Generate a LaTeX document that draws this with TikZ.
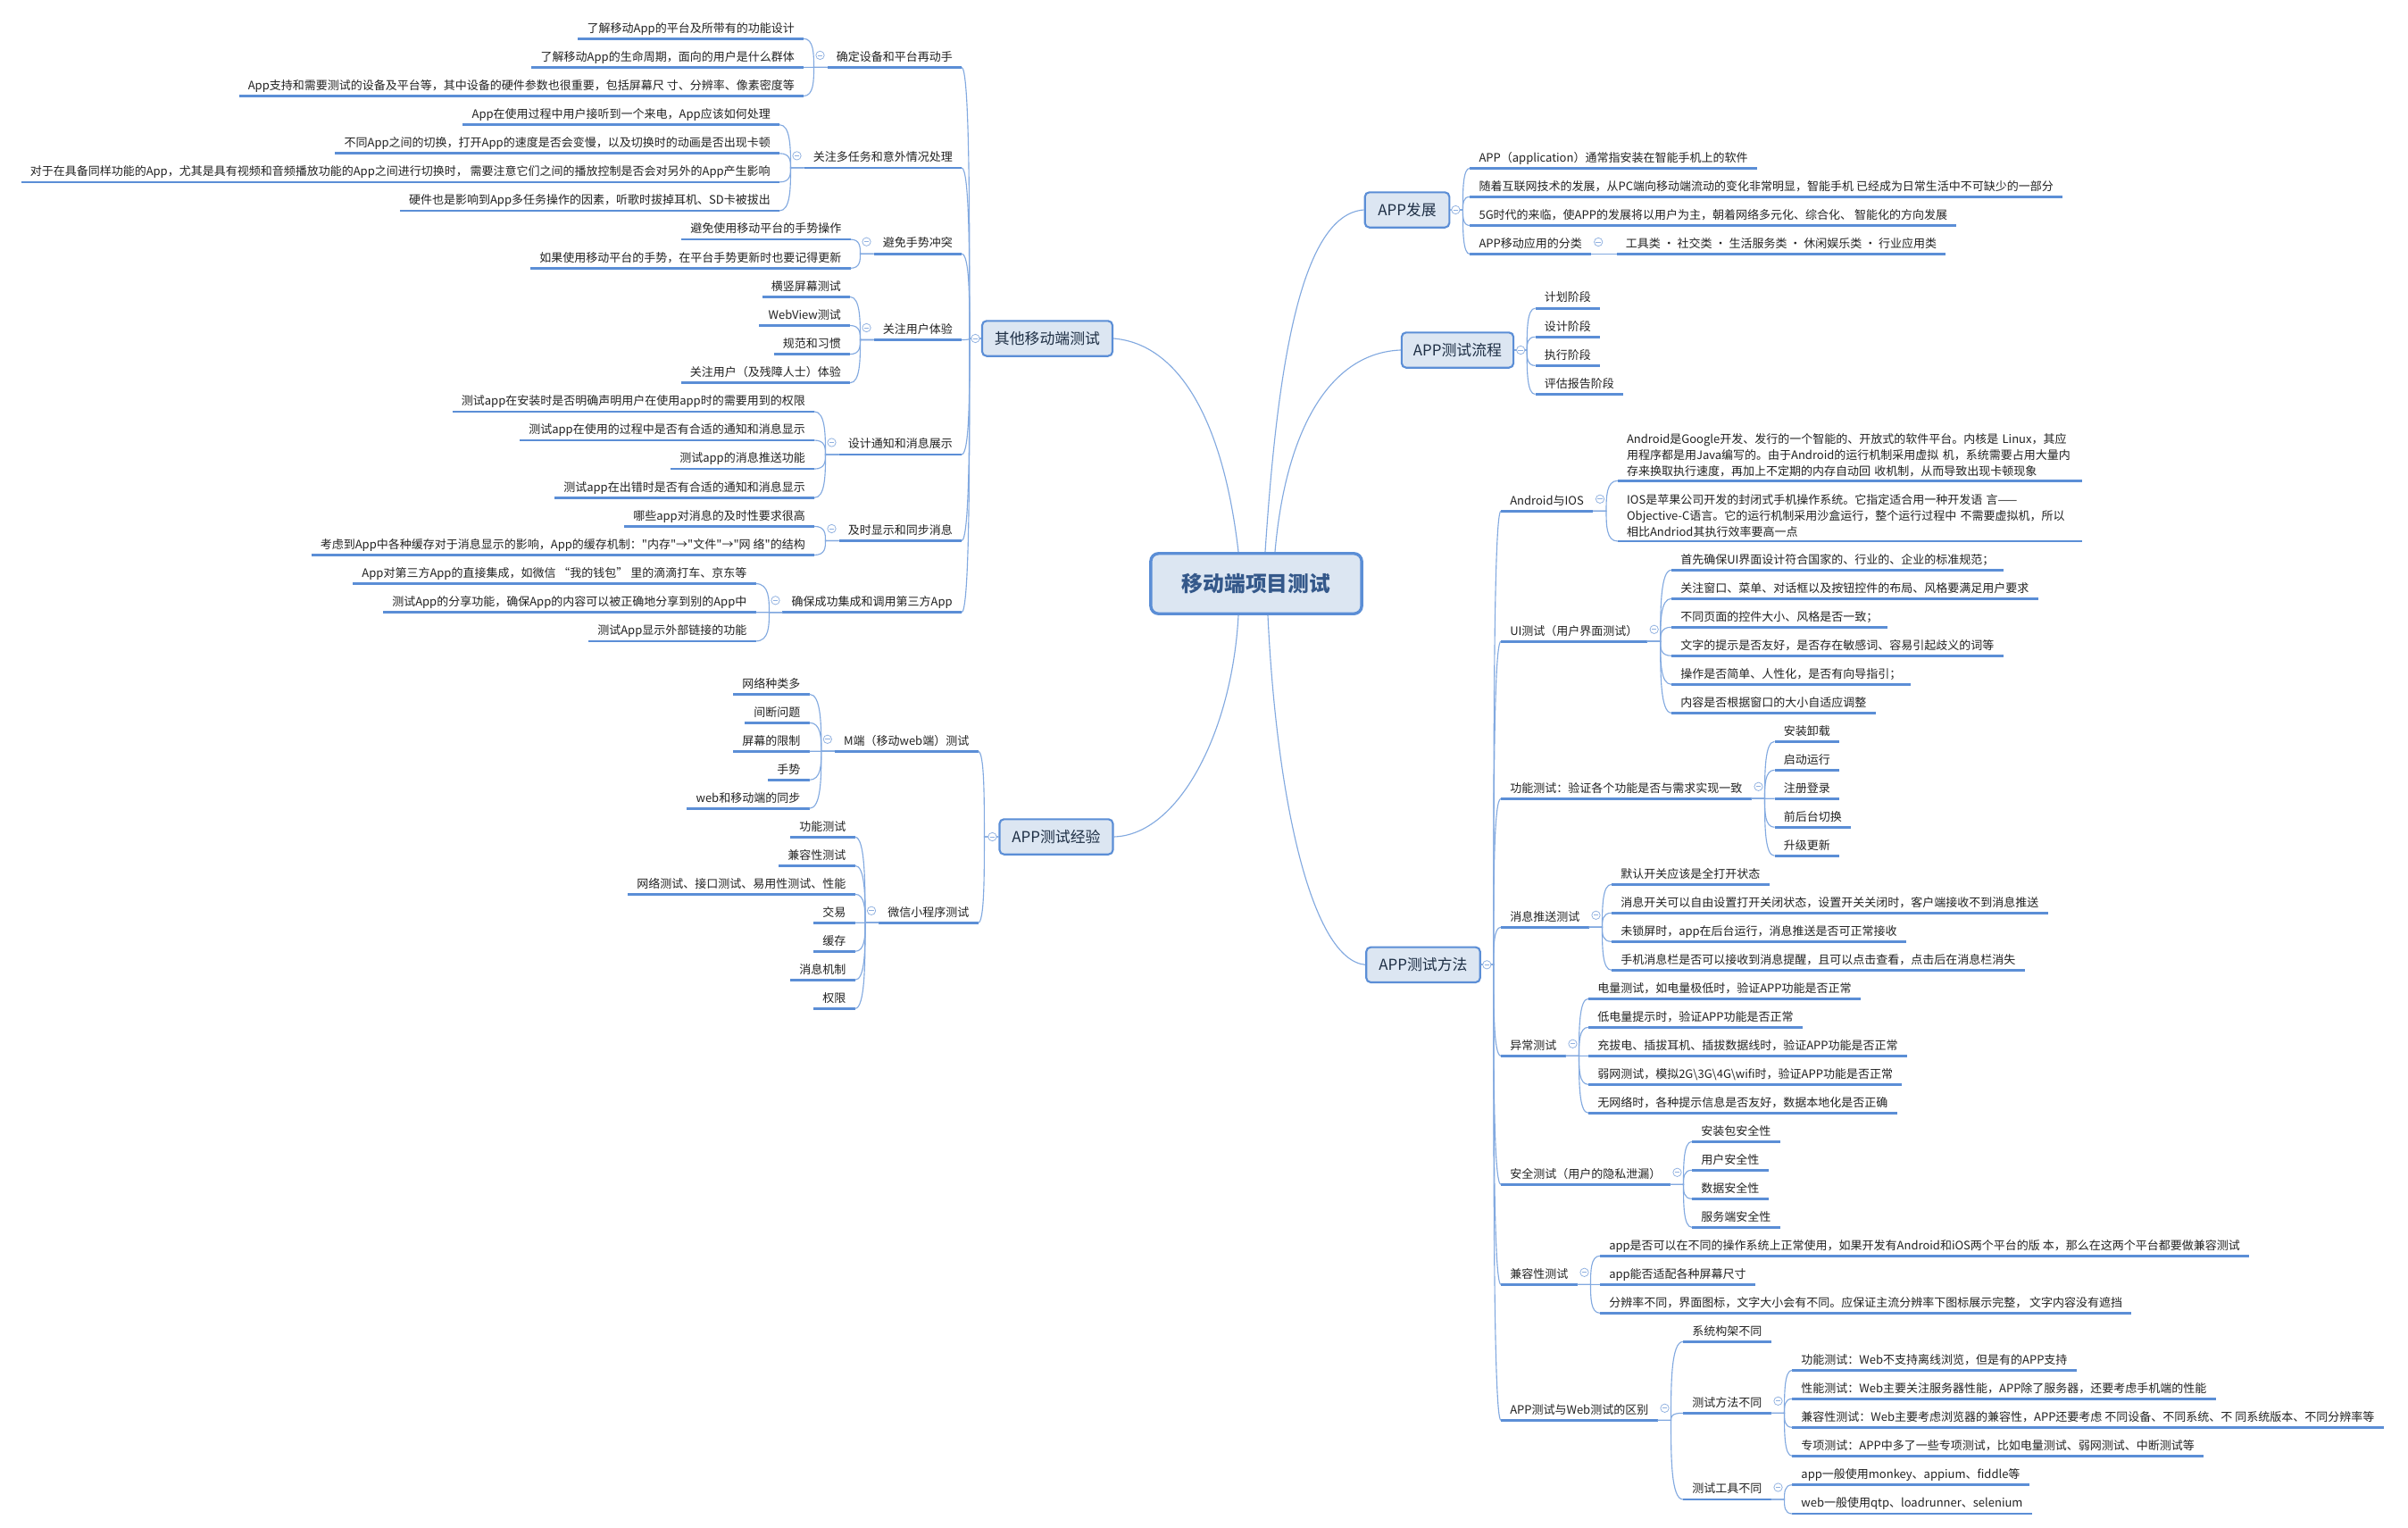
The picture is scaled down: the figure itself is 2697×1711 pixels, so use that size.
\documentclass[tikz,border=0pt]{standalone}
\usepackage{fontspec}
\setmainfont{Noto Sans CJK SC}
\newfontfamily\qtfont{Noto Sans CJK SC}[Ligatures=TeXOff]
\newcommand{\qt}{{\qtfont"}}
\usetikzlibrary{calc}
\definecolor{ink}{HTML}{222222}
\definecolor{ink2}{HTML}{1E2F45}
\definecolor{rootink}{HTML}{34588A}
\definecolor{uline}{HTML}{5B8ED6}
\definecolor{link}{HTML}{82A9E0}
\definecolor{boxfill}{HTML}{DCE6F2}
\definecolor{foldc}{HTML}{8FB0E0}
\newcommand{\leaffont}{\fontsize{10.4pt}{14.4pt}\selectfont}
\tikzset{
  ul/.style={draw=uline, line width=2.2pt},
  leaf/.style={font=\leaffont, text=ink, inner xsep=8pt, inner ysep=3.6pt,
               text height=.9em, text depth=.2em,
               append after command={(\tikzlastnode.south west) edge[ul] (\tikzlastnode.south east)}},
  lleaf/.style={leaf, anchor=south east},
  rleaf/.style={leaf, anchor=south west},
  mleaf/.style={font=\leaffont, text=ink, inner xsep=8pt, inner ysep=3.6pt,
                text width=400pt, align=left, anchor=south west,
                append after command={(\tikzlastnode.south west) edge[ul] (\tikzlastnode.south east)}},
  topic/.style={draw=uline, line width=1.7pt, fill=boxfill, rounded corners=4pt,
                font=\fontsize{13.5pt}{16pt}\selectfont, text=ink2,
                minimum height=31.5pt, inner sep=0pt},
  rootbox/.style={draw=uline, line width=2.7pt, fill=boxfill, rounded corners=7pt,
                  font=\fontsize{19pt}{22pt}\selectfont\bfseries, text=rootink,
                  minimum width=189pt, minimum height=54pt},
  lk/.style={draw=link, line width=0.9pt},
  % ---- curved branch: short stub, then bend into the child's underline ----
  cur/.style={to path={(\tikztostart) -- ++(#1,0) coordinate (jt)
      .. controls ($(jt)!.45!(jt|-\tikztotarget)$) and (jt|-\tikztotarget) .. (\tikztotarget)}},
  fold/.style={circle, draw=foldc, fill=white, line width=0.6pt, minimum size=7.5pt, inner sep=0pt,
      path picture={\draw[foldc, line width=0.6pt]
        ([xshift=-2.2pt]path picture bounding box.center) -- ([xshift=2.2pt]path picture bounding box.center);}},
}

\begin{document}
\begin{tikzpicture}[x=0.8pt, y=-0.8pt]
\fill[white] (0,0) rectangle (2697,1711);
\useasboundingbox (0,0) rectangle (2697,1711);
% centre and main topics
\node[rootbox] (root) at (1407,653.5) {移动端项目测试};
\node[topic, minimum width=116.8pt] (tOther) at (1173,379) {其他移动端测试};
\node[topic, minimum width=101.6pt] (tExp) at (1183,937) {APP测试经验};
\node[topic, minimum width=75.7pt] (tDev) at (1576,235) {APP发展};
\node[topic, minimum width=100.2pt] (tFlow) at (1632.5,392) {APP测试流程};
\node[topic, minimum width=102pt] (tMeth) at (1594,1080.3) {APP测试方法};
\draw[lk] ($(root.north)+(-20,0)$) .. controls (1370,470) and (1320,385) .. (tOther.east);
\draw[lk] ($(root.north)+(10,0)$) .. controls (1430,420) and (1455,240) .. (tDev.west);
\draw[lk] ($(root.north)+(21,0)$) .. controls (1440,480) and (1490,395) .. (tFlow.west);
\draw[lk] ($(root.south)+(-20,0)$) .. controls (1380,820) and (1320,935) .. (tExp.east);
\draw[lk] ($(root.south)+(13,0)$) .. controls (1430,900) and (1470,1075) .. (tMeth.west);

% 其他移动端测试
\node[lleaf] (o1) at (1077,75.4) {确定设备和平台再动手};
\node[lleaf] (o11) at (900,43.3) {了解移动App的平台及所带有的功能设计};
\node[lleaf] (o12) at (900,75.4) {了解移动App的生命周期，面向的用户是什么群体};
\node[lleaf] (o13) at (900,107.5) {App支持和需要测试的设备及平台等，其中设备的硬件参数也很重要，包括屏幕尺 寸、分辨率、像素密度等};
\node[lleaf] (o2) at (1077,187.9) {关注多任务和意外情况处理};
\node[lleaf] (o21) at (873,139.7) {App在使用过程中用户接听到一个来电，App应该如何处理};
\node[lleaf] (o22) at (873,171.8) {不同App之间的切换，打开App的速度是否会变慢，以及切换时的动画是否出现卡顿};
\node[lleaf] (o23) at (873,203.9) {对于在具备同样功能的App，尤其是具有视频和音频播放功能的App之间进行切换时， 需要注意它们之间的播放控制是否会对另外的App产生影响};
\node[lleaf] (o24) at (873,236.0) {硬件也是影响到App多任务操作的因素，听歌时拔掉耳机、SD卡被拔出};
\node[lleaf] (o3) at (1077,284.2) {避免手势冲突};
\node[lleaf] (o31) at (952.6,268.1) {避免使用移动平台的手势操作};
\node[lleaf] (o32) at (952.6,300.3) {如果使用移动平台的手势，在平台手势更新时也要记得更新};
\node[lleaf] (o4) at (1077,380.5) {关注用户体验};
\node[lleaf] (o41) at (952,332.4) {横竖屏幕测试};
\node[lleaf] (o42) at (952,364.5) {WebView测试};
\node[lleaf] (o43) at (952,396.6) {规范和习惯};
\node[lleaf] (o44) at (952,428.7) {关注用户（及残障人士）体验};
\node[lleaf] (o5) at (1077,509) {设计通知和消息展示};
\node[lleaf] (o51) at (912,460.9) {测试app在安装时是否明确声明用户在使用app时的需要用到的权限};
\node[lleaf] (o52) at (912,493.0) {测试app在使用的过程中是否有合适的通知和消息显示};
\node[lleaf] (o53) at (912,525.1) {测试app的消息推送功能};
\node[lleaf] (o54) at (912,557.3) {测试app在出错时是否有合适的通知和消息显示};
\node[lleaf] (o6) at (1077,605.5) {及时显示和同步消息};
\node[lleaf] (o61) at (912,589.4) {哪些app对消息的及时性要求很高};
\node[lleaf] (o62) at (912,621.5) {考虑到App中各种缓存对于消息显示的影响，App的缓存机制：\qt 内存\qt →\qt 文件\qt →\qt 网 络\qt 的结构};
\node[lleaf] (o7) at (1077,685.8) {确保成功集成和调用第三方App};
\node[lleaf] (o71) at (846.6,653.6) {App对第三方App的直接集成，如微信 “我的钱包” 里的滴滴打车、京东等};
\node[lleaf] (o72) at (846.6,685.8) {测试App的分享功能，确保App的内容可以被正确地分享到别的App中};
\node[lleaf] (o73) at (846.6,717.9) {测试App显示外部链接的功能};

% APP测试经验
\node[lleaf] (e1) at (1095.5,841.3) {M端（移动web端）测试};
\node[lleaf] (e11) at (906.5,777.3) {网络种类多};
\node[lleaf] (e12) at (906.5,809.3) {间断问题};
\node[lleaf] (e13) at (906.5,841.3) {屏幕的限制};
\node[lleaf] (e14) at (906.5,873.3) {手势};
\node[lleaf] (e15) at (906.5,905.3) {web和移动端的同步};
\node[lleaf] (e2) at (1095.5,1033.3) {微信小程序测试};
\node[lleaf] (e21) at (957.6,937.3) {功能测试};
\node[lleaf] (e22) at (957.6,969.3) {兼容性测试};
\node[lleaf] (e23) at (957.6,1001.3) {网络测试、接口测试、易用性测试、性能};
\node[lleaf] (e24) at (957.6,1033.3) {交易};
\node[lleaf] (e25) at (957.6,1065.3) {缓存};
\node[lleaf] (e26) at (957.6,1097.3) {消息机制};
\node[lleaf] (e27) at (957.6,1129.3) {权限};

% APP发展
\node[rleaf] (d1) at (1646.3,188.3) {APP（application）通常指安装在智能手机上的软件};
\node[rleaf] (d2) at (1646.3,220.4) {随着互联网技术的发展，从PC端向移动端流动的变化非常明显，智能手机 已经成为日常生活中不可缺少的一部分};
\node[rleaf] (d3) at (1646.3,252.5) {5G时代的来临，使APP的发展将以用户为主，朝着网络多元化、综合化、 智能化的方向发展};
\node[rleaf] (d4) at (1646.3,284.5) {APP移动应用的分类};
\node[rleaf] (d41) at (1810.6,284.5) {工具类 • 社交类 • 生活服务类 • 休闲娱乐类 • 行业应用类};

% APP测试流程
\node[rleaf] (s1) at (1719.5,345.2) {计划阶段};
\node[rleaf] (s2) at (1719.5,377.3) {设计阶段};
\node[rleaf] (s3) at (1719.5,409.4) {执行阶段};
\node[rleaf] (s4) at (1719.5,441.5) {评估报告阶段};

% APP测试方法
\node[rleaf] (m1) at (1681,572.3) {Android与IOS};
\node[mleaf] (m11) at (1811.8,538.3) {Android是Google开发、发行的一个智能的、开放式的软件平台。内核是 Linux，其应\\用程序都是用Java编写的。由于Android的运行机制采用虚拟 机，系统需要占用大量内\\存来换取执行速度，再加上不定期的内存自动回 收机制，从而导致出现卡顿现象};
\node[mleaf] (m12) at (1811.8,606) {IOS是苹果公司开发的封闭式手机操作系统。它指定适合用一种开发语 言——\\Objective-C语言。它的运行机制采用沙盒运行，整个运行过程中 不需要虚拟机，所以\\相比Andriod其执行效率要高一点};
\node[rleaf] (m2) at (1681,718.3) {UI测试（用户界面测试）};
\node[rleaf] (m21) at (1872,638.3) {首先确保UI界面设计符合国家的、行业的、企业的标准规范；};
\node[rleaf] (m22) at (1872,670.3) {关注窗口、菜单、对话框以及按钮控件的布局、风格要满足用户要求};
\node[rleaf] (m23) at (1872,702.3) {不同页面的控件大小、风格是否一致；};
\node[rleaf] (m24) at (1872,734.3) {文字的提示是否友好，是否存在敏感词、容易引起歧义的词等};
\node[rleaf] (m25) at (1872,766.3) {操作是否简单、人性化，是否有向导指引；};
\node[rleaf] (m26) at (1872,798.3) {内容是否根据窗口的大小自适应调整};
\node[rleaf] (m3) at (1681,894.3) {功能测试：验证各个功能是否与需求实现一致};
\node[rleaf] (m31) at (1987.5,830.3) {安装卸载};
\node[rleaf] (m32) at (1987.5,862.3) {启动运行};
\node[rleaf] (m33) at (1987.5,894.3) {注册登录};
\node[rleaf] (m34) at (1987.5,926.3) {前后台切换};
\node[rleaf] (m35) at (1987.5,958.3) {升级更新};
\node[rleaf] (m4) at (1681,1038.3) {消息推送测试};
\node[rleaf] (m41) at (1805,990.3) {默认开关应该是全打开状态};
\node[rleaf] (m42) at (1805,1022.3) {消息开关可以自由设置打开关闭状态，设置开关关闭时，客户端接收不到消息推送};
\node[rleaf] (m43) at (1805,1054.3) {未锁屏时，app在后台运行，消息推送是否可正常接收};
\node[rleaf] (m44) at (1805,1086.3) {手机消息栏是否可以接收到消息提醒，且可以点击查看，点击后在消息栏消失};
\node[rleaf] (m5) at (1681,1182.3) {异常测试};
\node[rleaf] (m51) at (1779,1118.3) {电量测试，如电量极低时，验证APP功能是否正常};
\node[rleaf] (m52) at (1779,1150.3) {低电量提示时，验证APP功能是否正常};
\node[rleaf] (m53) at (1779,1182.3) {充拔电、插拔耳机、插拔数据线时，验证APP功能是否正常};
\node[rleaf] (m54) at (1779,1214.3) {弱网测试，模拟2G\textbackslash 3G\textbackslash 4G\textbackslash wifi时，验证APP功能是否正常};
\node[rleaf] (m55) at (1779,1246.3) {无网络时，各种提示信息是否友好，数据本地化是否正确};
\node[rleaf] (m6) at (1681,1326.3) {安全测试（用户的隐私泄漏）};
\node[rleaf] (m61) at (1895,1278.3) {安装包安全性};
\node[rleaf] (m62) at (1895,1310.3) {用户安全性};
\node[rleaf] (m63) at (1895,1342.3) {数据安全性};
\node[rleaf] (m64) at (1895,1374.3) {服务端安全性};
\node[rleaf] (m7) at (1681,1438.3) {兼容性测试};
\node[rleaf] (m71) at (1792,1406.3) {app是否可以在不同的操作系统上正常使用，如果开发有Android和iOS两个平台的版 本，那么在这两个平台都要做兼容测试};
\node[rleaf] (m72) at (1792,1438.3) {app能否适配各种屏幕尺寸};
\node[rleaf] (m73) at (1792,1470.3) {分辨率不同，界面图标，文字大小会有不同。应保证主流分辨率下图标展示完整， 文字内容没有遮挡};
\node[rleaf] (m8) at (1681,1590.3) {APP测试与Web测试的区别};
\node[rleaf] (m81) at (1885,1502.3) {系统构架不同};
\node[rleaf] (m82) at (1885,1582.3) {测试方法不同};
\node[rleaf] (m821) at (2007.2,1534.3) {功能测试：Web不支持离线浏览，但是有的APP支持};
\node[rleaf] (m822) at (2007.2,1566.3) {性能测试：Web主要关注服务器性能，APP除了服务器，还要考虑手机端的性能};
\node[rleaf] (m823) at (2007.2,1598.3) {兼容性测试：Web主要考虑浏览器的兼容性，APP还要考虑 不同设备、不同系统、不 同系统版本、不同分辨率等};
\node[rleaf] (m824) at (2007.2,1630.3) {专项测试：APP中多了一些专项测试，比如电量测试、弱网测试、中断测试等};
\node[rleaf] (m83) at (1885,1679) {测试工具不同};
\node[rleaf] (m831) at (2007.2,1662.7) {app一般使用monkey、appium、fiddle等};
\node[rleaf] (m832) at (2007.2,1695) {web一般使用qtp、loadrunner、selenium};

% branches
\foreach \c in {1,...,7} \draw[lk] (tOther.west) to[cur=-13] (o\c.south east);
\foreach \c in {1,2} \draw[lk] (tExp.west) to[cur=-16] (e\c.south east);
\foreach \p/\n in {o1/3,o2/4,o3/2,o4/4,o5/4,o6/2,o7/3,e1/5,e2/7}
  \foreach \i in {1,...,\n} \draw[lk] (\p.south west) to[cur=-15] (\p\i.south east);
\foreach \c in {1,...,4} \draw[lk] (tDev.east) to[cur=14] (d\c.south west);
\draw[lk] (d4.south east) -- (d41.south west);
\foreach \c in {1,...,4} \draw[lk] (tFlow.east) to[cur=14] (s\c.south west);
\foreach \c in {1,...,8} \draw[lk] (tMeth.east) to[cur=14] (m\c.south west);
\foreach \p/\n in {m1/2,m2/6,m3/5,m4/4,m5/5,m6/4,m7/3,m8/3,m82/4,m83/2}
  \foreach \i in {1,...,\n} \draw[lk] (\p.south east) to[cur=15] (\p\i.south west);

% fold markers
\foreach \p in {o1,o2,o3,o4,o5,o6,o7,e1,e2}
  \node[fold] (f\p) at ($(\p.south west)+(-8,-13.5)$) {};
\foreach \p in {d4,m1,m2,m3,m4,m5,m6,m7,m8,m82,m83}
  \node[fold] (f\p) at ($(\p.south east)+(8,-13.5)$) {};
\node[fold] (ftOther) at ($(tOther.west)+(-6.5,0)$) {};
\node[fold] (ftExp) at ($(tExp.west)+(-7,0)$) {};
\node[fold] (ftDev) at ($(tDev.east)+(6,0)$) {};
\node[fold] (ftFlow) at ($(tFlow.east)+(7,0)$) {};
\node[fold] (ftMeth) at ($(tMeth.east)+(6.5,0)$) {};
\end{tikzpicture}
\end{document}
